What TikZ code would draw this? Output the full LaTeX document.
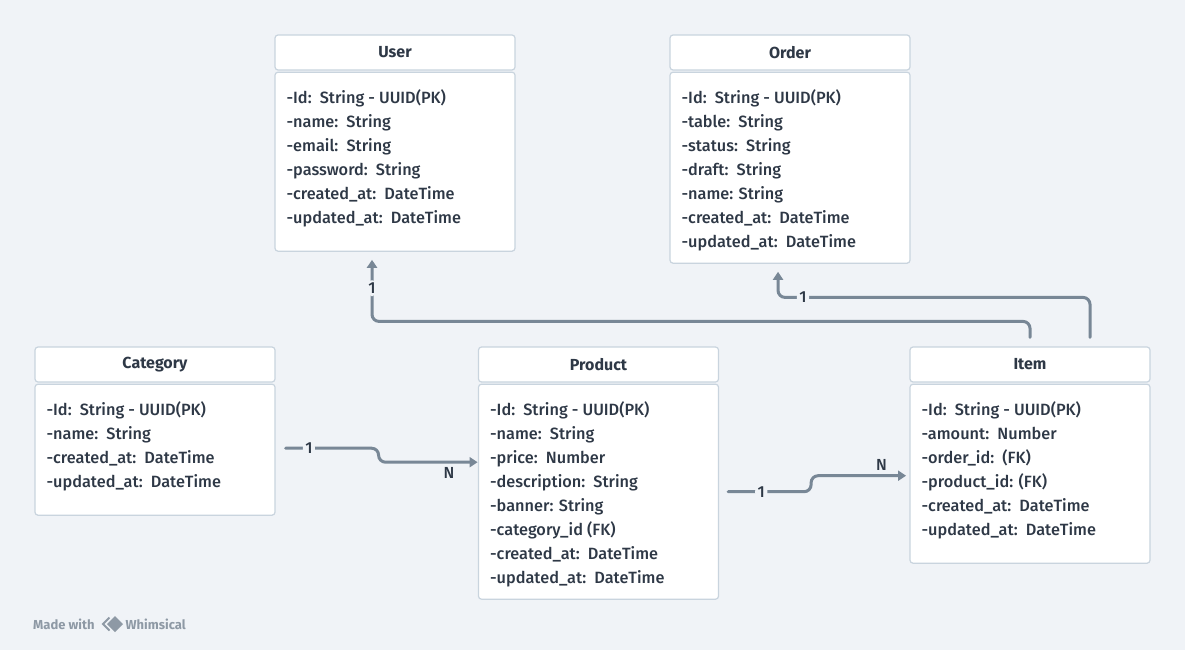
\documentclass[tikz,border=0pt]{standalone}
\usepackage{fontspec}
\setmainfont{Fira Sans}[UprightFont={* Medium},BoldFont={* Bold}]
\usetikzlibrary{arrows.meta,positioning,calc}
\definecolor{Paper}{HTML}{F0F3F7}
\definecolor{BoxLine}{HTML}{C9D4DE}
\definecolor{Ink}{HTML}{2E3846}
\definecolor{Wire}{HTML}{788796}
\definecolor{Brand}{HTML}{8E99A5}

\begin{document}
\begin{tikzpicture}[x=1pt,y=-1pt]
  \tikzset{
    head/.style={draw=BoxLine,fill=white,rounded corners=3pt,line width=1.2pt,minimum width=240pt,minimum height=35pt,inner sep=0pt,text=Ink,font=\fontsize{16}{18}\selectfont\bfseries},
    frame/.style={draw=BoxLine,fill=white,rounded corners=3pt,line width=1.2pt,minimum width=240pt,inner sep=0pt},
    fields/.style={anchor=north west,align=left,inner sep=0pt,text=Ink,font=\fontsize{16.3}{24}\selectfont},
    link/.style={draw=Wire,line width=3pt,line cap=round,rounded corners=7pt},
    tip/.style={-{Triangle[length=8pt,width=10pt]}},
    num/.style={fill=Paper,inner sep=2.5pt,text=Ink,font=\fontsize{16}{16}\selectfont},
    card/.style={inner sep=1pt,text=Ink,font=\fontsize{16}{16}\selectfont},
    brand/.style={inner sep=0pt,text=Brand,font=\fontsize{13}{13}\selectfont\bfseries}
  }
  \fill[Paper] (0,0) rectangle (1185,650);

  % entities
  \node[head] (userhead) at (395,52.5) {User};
  \node[frame,minimum height=179pt,below=1pt of userhead] (userbody) {};
  \node[fields] (userfields) at ($(userbody.north west)+(12,17.5)$) {-Id:\ \ String - UUID(PK)\\-name:\ \ String\\-email:\ \ String\\-password:\ \ String\\-created\_at:\ \ DateTime\\-updated\_at:\ \ DateTime};

  \node[head] (orderhead) at (790,52.5) {Order};
  \node[frame,minimum height=191pt,below=1pt of orderhead] (orderbody) {};
  \node[fields] (orderfields) at ($(orderbody.north west)+(12,17.5)$) {-Id:\ \ String - UUID(PK)\\-table:\ \ String\\-status:\ \ String\\-draft:\ \ String\\-name: String\\-created\_at:\ \ DateTime\\-updated\_at:\ \ DateTime};

  \node[head] (cathead) at (155,364.5) {Category};
  \node[frame,minimum height=131pt,below=1pt of cathead] (catbody) {};
  \node[fields] (catfields) at ($(catbody.north west)+(12,17.5)$) {-Id:\ \ String - UUID(PK)\\-name:\ \ String\\-created\_at:\ \ DateTime\\-updated\_at:\ \ DateTime};

  \node[head] (prodhead) at (598.5,364.5) {Product};
  \node[frame,minimum height=215pt,below=1pt of prodhead] (prodbody) {};
  \node[fields] (prodfields) at ($(prodbody.north west)+(12,17.5)$) {-Id:\ \ String - UUID(PK)\\-name:\ \ String\\-price:\ \ Number\\-description:\ \ String\\-banner: String\\-category\_id (FK)\\-created\_at:\ \ DateTime\\-updated\_at:\ \ DateTime};

  \node[head] (itemhead) at (1030,364.5) {Item};
  \node[frame,minimum height=179pt,below=1pt of itemhead] (itembody) {};
  \node[fields] (itemfields) at ($(itembody.north west)+(12,17.5)$) {-Id:\ \ String - UUID(PK)\\-amount:\ \ Number\\-order\_id:\ \ (FK)\\-product\_id: (FK)\\-created\_at:\ \ DateTime\\-updated\_at:\ \ DateTime};

  % relations
  \draw[link,tip] ([yshift=9pt]itemhead.north) -- ++(0,-16) -| node[num,pos=0.77] {1} ([xshift=-23pt,yshift=-8pt]userbody.south);
  \draw[link,tip] ([xshift=60pt,yshift=9pt]itemhead.north) -- ++(0,-40) -| node[num,pos=0.46] {1} ([xshift=-12pt,yshift=-8pt]orderbody.south);
  \draw[link,tip] ([xshift=10pt,yshift=1.5pt]catbody.east) -- node[num,pos=0.25] {1} ++(93,0) -- ++(0,14) -- ++(99,0) node[card,pos=0.71,below=3pt] {N};
  \draw[link,tip] ([xshift=9pt]prodbody.east) -- node[num,pos=0.4] {1} ++(83,0) -- ++(0,-16) -- ++(95,0) node[card,pos=0.74,above=3pt] {N};

  % footer
  \node[brand,anchor=west] (made) at (33,624.5) {Made with};
  \draw[Brand,line width=1.8pt,line join=miter] (109.5,617.5) -- (103,624) -- (109.5,630.5);
  \fill[Brand] (115,616) -- (123,624) -- (115,632) -- (107,624) -- cycle;
  \node[brand,anchor=west] (whim) at (125.5,624.5) {Whimsical};
\end{tikzpicture}
\end{document}
